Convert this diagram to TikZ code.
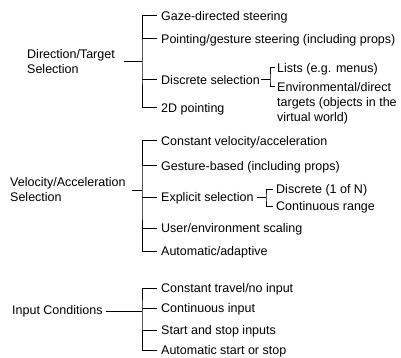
\documentclass[tikz,border=0pt]{standalone}
\usepackage{fontspec}
\setmainfont{Liberation Sans}
\begin{document}
\begin{tikzpicture}[x=1pt,y=-1pt,
  lbl/.style={anchor=west,inner sep=0pt,text height=9pt,text depth=0pt,font=\fontsize{12.5}{15}\selectfont},
  mlbl/.style={anchor=north west,inner sep=0pt,align=left,font=\fontsize{12.5}{15}\selectfont},
  ln/.style={line width=1pt,line cap=butt}]
\useasboundingbox (0,0) rectangle (401,358);

% ---------- Direction/Target Selection ----------
\node[mlbl] (dts) at (27,49) {Direction/Target\\Selection};
\coordinate (s1) at (124,62);
\coordinate (b1) at (142,62);
\node[lbl] (a1) at (161,16) {Gaze-directed steering};
\node[lbl] (a2) at (161,39) {Pointing/gesture steering (including props)};
\node[lbl] (a3) at (161,80) {Discrete selection};
\node[lbl] (a4) at (161,108) {2D pointing};
\draw[ln] (s1) -- (b1);
\draw[ln] ([xshift=-4pt]a1.west) -| (b1) |- ([xshift=-4pt]a4.west);
\draw[ln] (b1 |- a2.west) -- ([xshift=-4pt]a2.west);
\draw[ln] (b1 |- a3.west) -- ([xshift=-4pt]a3.west);

\coordinate (b2) at (270,80);
\node[lbl] (l1) at (277,68) {Lists (e.g. menus)};
\node[mlbl] (l2) at (277,82) {Environmental/direct\\targets (objects in the\\virtual world)};
\coordinate (l2t) at ([yshift=-4.5pt]l2.north west);
\draw[ln] ([xshift=1pt]a3.east) -- (b2);
\draw[ln] ([xshift=-2pt]l1.west) -| (b2) |- ([xshift=-2pt]l2t);

% ---------- Velocity/Acceleration Selection ----------
\node[mlbl] (vas) at (10,177) {Velocity/Acceleration\\Selection};
\coordinate (s2) at (132,190);
\coordinate (b3) at (142,190);
\node[lbl] (v1) at (161,141) {Constant velocity/acceleration};
\node[lbl] (v2) at (161,166) {Gesture-based (including props)};
\node[lbl] (v3) at (161,197) {Explicit selection};
\node[lbl] (v4) at (161,228) {User/environment scaling};
\node[lbl] (v5) at (161,251) {Automatic/adaptive};
\draw[ln] (s2) -- (b3);
\draw[ln] ([xshift=-4pt]v1.west) -| (b3) |- ([xshift=-4pt]v5.west);
\draw[ln] (b3 |- v2.west) -- ([xshift=-4pt]v2.west);
\draw[ln] (b3 |- v3.west) -- ([xshift=-4pt]v3.west);
\draw[ln] (b3 |- v4.west) -- ([xshift=-4pt]v4.west);

\coordinate (b4) at (266,197);
\node[lbl] (e1) at (276,189) {Discrete (1 of N)};
\node[lbl] (e2) at (276,206) {Continuous range};
\draw[ln] ([xshift=3pt]v3.east) -- (b4);
\draw[ln] ([xshift=-3pt]e1.west) -| (b4) |- ([xshift=-3pt]e2.west);

% ---------- Input Conditions ----------
\node[lbl] (ic) at (12,310) {Input Conditions};
\coordinate (b5) at (142,311);
\node[lbl] (i1) at (161,288) {Constant travel/no input};
\node[lbl] (i2) at (161,308) {Continuous input};
\node[lbl] (i3) at (161,330) {Start and stop inputs};
\node[lbl] (i4) at (161,350) {Automatic start or stop};
\draw[ln] ([xshift=3pt]ic.east |- b5) -- (b5);
\draw[ln] ([xshift=-4pt]i1.west) -| (b5) |- ([xshift=-4pt]i4.west);
\draw[ln] (b5 |- i2.west) -- ([xshift=-4pt]i2.west);
\draw[ln] (b5 |- i3.west) -- ([xshift=-4pt]i3.west);
\end{tikzpicture}
\end{document}
